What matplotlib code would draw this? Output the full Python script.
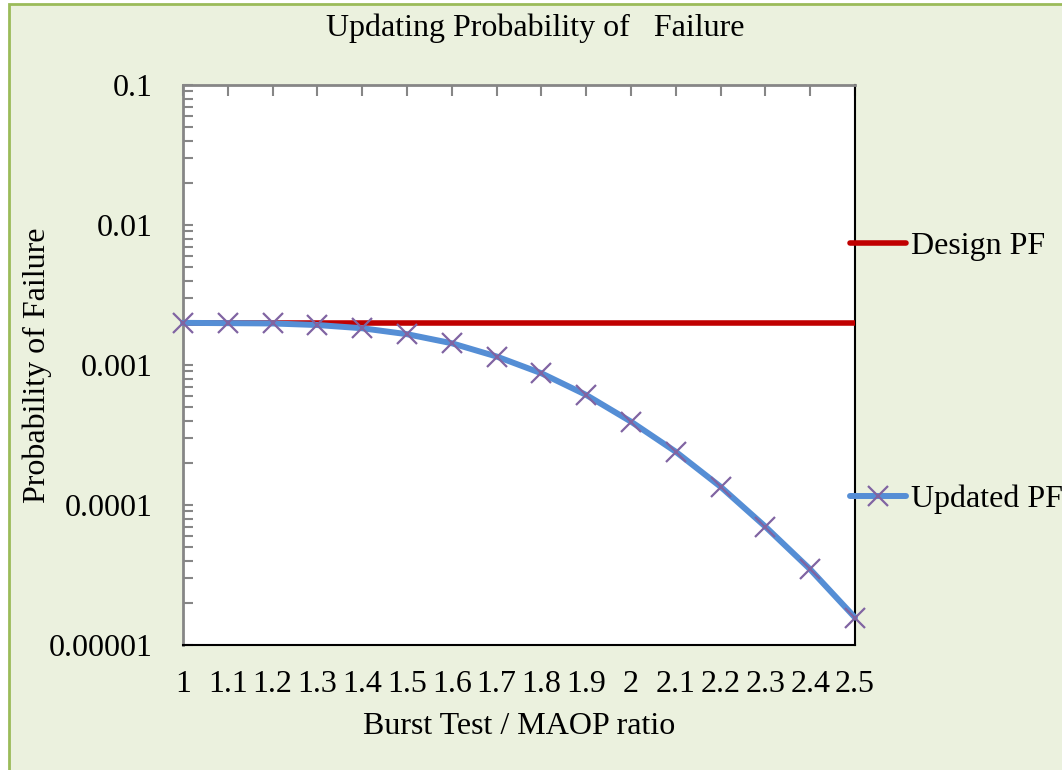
import matplotlib.pyplot as plt
from matplotlib.patches import Rectangle
from matplotlib.ticker import FixedLocator, LogLocator, NullFormatter

ratio = ['1', '1.1', '1.2', '1.3', '1.4', '1.5', '1.6', '1.7', '1.8', '1.9',
         '2', '2.1', '2.2', '2.3', '2.4', '2.5']
design_pf = [0.002] * 16
updated_pf = [0.002, 0.00199, 0.00198, 0.00193, 0.00183, 0.00166, 0.00143,
              0.00115, 0.000873, 0.000611, 0.000394, 0.000240, 0.000135,
              0.0000700, 0.0000347, 0.0000157]
ytick_vals = [1e-5, 1e-4, 1e-3, 1e-2, 1e-1]
ytick_text = ['0.00001', '0.0001', '0.001', '0.01', '0.1']

plt.rcParams['font.family'] = 'Liberation Serif'
plt.rcParams['font.size'] = 23

W, H = 1062, 770
fig = plt.figure(figsize=(W / 100, H / 100), dpi=100, facecolor='white')

# chart area background with olive border
fig.patches.append(Rectangle((9 / W, -0.1), 1.2, 1 - 4 / H + 0.1,
                             transform=fig.transFigure, facecolor='#EBF1DE',
                             edgecolor='#9BBB59', linewidth=2, zorder=-5))

ax = fig.add_axes([183 / W, 1 - 645 / H, (855 - 183) / W, (645 - 85) / H])
ax.set_zorder(2)
ax.set_facecolor('white')

x = list(range(len(ratio)))
ax.plot(x, design_pf, color='#C00000', lw=4, label='Design PF',
        solid_capstyle='round', zorder=3)
ax.plot(x, updated_pf, color='#558ED5', lw=4.3, label='Updated PF',
        marker='x', ms=14, mec='#8064A2', mew=1.6,
        solid_capstyle='round', zorder=4, clip_on=False)

ax.set_yscale('log')
ax.set_ylim(1e-5, 1e-1)
ax.set_xlim(0, len(ratio) - 1)

ax.yaxis.set_major_locator(FixedLocator(ytick_vals))
ax.set_yticklabels(ytick_text)
ax.yaxis.set_minor_locator(LogLocator(base=10, subs=range(2, 10)))
ax.yaxis.set_minor_formatter(NullFormatter())
ax.tick_params(axis='y', which='both', direction='in', length=7, width=1.5,
               color='#868686', pad=22)

ax.set_xticks(x)
ax.set_xticklabels(ratio)
ax.tick_params(axis='x', direction='in', length=8, width=1.5, color='#868686',
               top=True, bottom=False, labelbottom=True, pad=18)

for side in ['left', 'top']:
    ax.spines[side].set_color('#868686')
    ax.spines[side].set_linewidth(2)
for side in ['right', 'bottom']:
    ax.spines[side].set_color('black')
    ax.spines[side].set_linewidth(1.5)

fig.text(535 / W, 1 - 28 / H, 'Updating Probability of   Failure',
         ha='center', va='center')
fig.text(519 / W, 1 - 727 / H, 'Burst Test / MAOP ratio',
         ha='center', va='center')
fig.text(37 / W, 1 - 365 / H, 'Probability of Failure', rotation=90,
         ha='center', va='center')

leg = fig.legend(loc='upper left', bbox_to_anchor=(850 / W, 1 - 232 / H),
                 frameon=False, handlelength=1.75, handletextpad=0.15,
                 labelspacing=7.0, borderpad=0, borderaxespad=0)
leg.set_zorder(5)

fig.savefig('out.png', dpi=100, facecolor=fig.get_facecolor())
